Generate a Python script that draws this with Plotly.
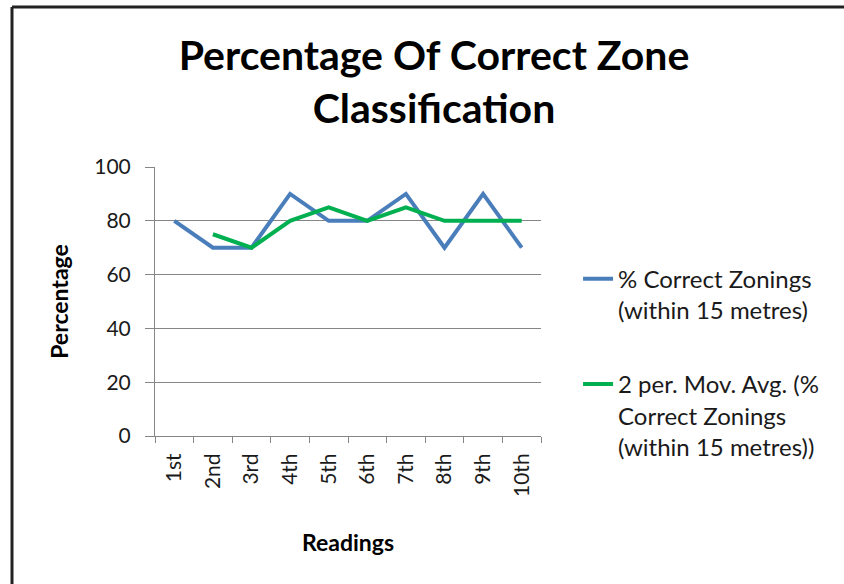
import plotly.graph_objects as go

readings = ["1st", "2nd", "3rd", "4th", "5th", "6th", "7th", "8th", "9th", "10th"]
correct_pct = [80, 70, 70, 90, 80, 80, 90, 70, 90, 70]
moving_avg = [None, 75, 70, 80, 85, 80, 85, 80, 80, 80]
y_ticks = [0, 20, 40, 60, 80, 100]

FONT = "Lato"

fig = go.Figure()
fig.add_trace(go.Scatter(
    x=readings, y=correct_pct, mode="lines",
    name="% Correct Zonings<br>(within 15 metres)",
    line=dict(color="#4A7EBB", width=4), legendgroup="a"))
fig.add_trace(go.Scatter(
    x=readings, y=moving_avg, mode="lines",
    name="2 per. Mov. Avg. (%<br>Correct Zonings<br>(within 15 metres))",
    line=dict(color="#00B050", width=4), legendgroup="b"))

fig.update_layout(
    width=844, height=584,
    margin=dict(l=155, r=303, t=167, b=148, autoexpand=False),
    paper_bgcolor="white", plot_bgcolor="white",
    font=dict(family=FONT, color="#1a1a1a", size=18),
    title=dict(text="<b>Percentage Of Correct Zone<br>Classification</b>",
               x=434 / 844, xanchor="center", xref="container",
               y=1 - 70 / 584, yanchor="top", yref="container",
               font=dict(family=FONT, size=41, color="black")),
    showlegend=True,
    legend=dict(x=1.096, xanchor="left", y=0.667, yanchor="top",
                valign="top", tracegroupgap=40,
                font=dict(family=FONT, size=24, color="#1a1a1a"),
                bgcolor="rgba(0,0,0,0)", itemwidth=30),
)

fig.update_xaxes(
    type="category", range=[-0.5, 9.5],
    showgrid=False, showline=True, linecolor="#868686", linewidth=1,
    ticks="outside", tickson="boundaries", ticklen=6, tickcolor="#868686",
    tickangle=-90, tickfont=dict(family=FONT, size=21, color="#1a1a1a"),
    ticklabelstandoff=8,
    title=dict(text="<b>Readings</b>", font=dict(family=FONT, size=23, color="black"),
               standoff=38),
)
fig.update_yaxes(
    range=[0, 100], tickvals=y_ticks,
    showgrid=True, gridcolor="#868686", gridwidth=1,
    showline=True, linecolor="#868686", linewidth=1,
    ticks="outside", ticklen=9, tickcolor="#868686",
    tickfont=dict(family=FONT, size=21, color="#1a1a1a"),
    ticklabelstandoff=10,
    zeroline=False,
    title=dict(text="<b>Percentage</b>", font=dict(family=FONT, size=23, color="black"),
               standoff=19),
)

# Outer frame (left and top edges of the chart box)
fig.add_shape(type="line", xref="paper", yref="paper",
              x0=(12 - 155) / 386, x1=(844 - 155) / 386,
              y0=(436 - 7) / 269, y1=(436 - 7) / 269,
              line=dict(color="#222222", width=3))
fig.add_shape(type="line", xref="paper", yref="paper",
              x0=(12 - 155) / 386, x1=(12 - 155) / 386,
              y0=(436 - 7) / 269, y1=(436 - 590) / 269,
              line=dict(color="#222222", width=3))

fig.write_html("out.html", config={"displayModeBar": False},
               post_script="document.body.style.margin='0px';")
